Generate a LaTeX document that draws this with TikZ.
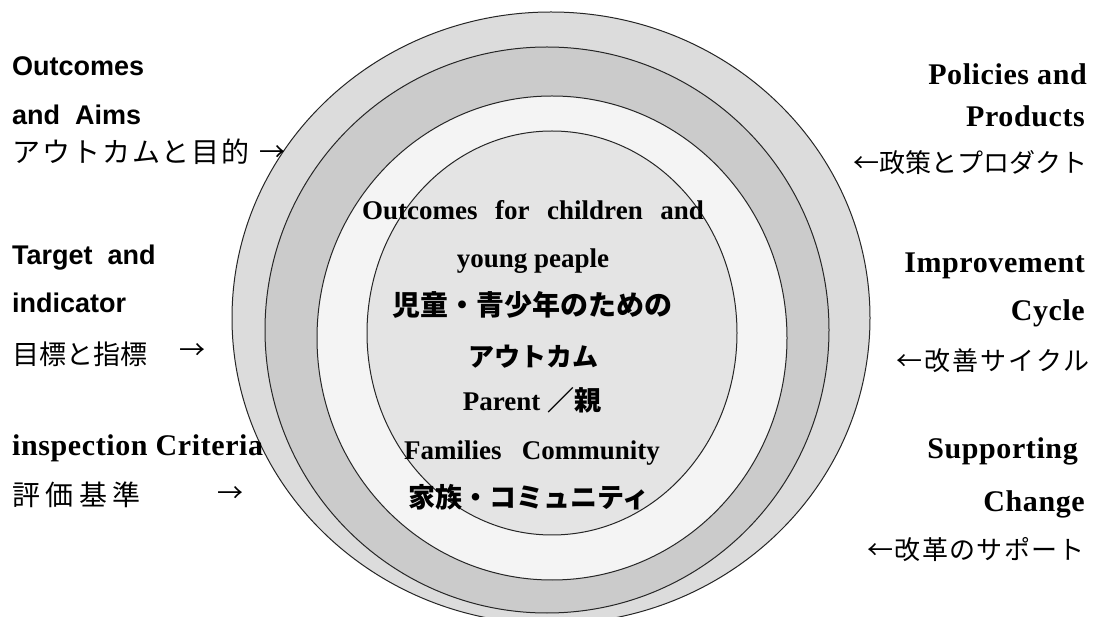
\documentclass[tikz,border=0pt]{standalone}
\usepackage{fontspec}
\setmainfont{Liberation Serif}
\newfontfamily\sansf{Liberation Sans}
\newfontfamily\serift[LetterSpace=2]{Liberation Serif}
\newfontfamily\jp{Noto Sans CJK JP}
\definecolor{bandA}{HTML}{DCDCDC}
\definecolor{bandB}{HTML}{CBCBCB}
\definecolor{bandC}{HTML}{F4F4F4}
\definecolor{bandD}{HTML}{E4E4E4}
\tikzset{
  ring/.style={draw=black!85, line width=1pt},
  lsans/.style={font=\sansf\bfseries\fontsize{27}{27}\selectfont, inner sep=0pt, anchor=base west},
  rser/.style={font=\serift\bfseries\fontsize{30}{30}\selectfont, inner sep=0pt, anchor=base east},
  lser/.style={font=\serift\bfseries\fontsize{30}{30}\selectfont, inner sep=0pt, anchor=base west},
  cser/.style={font=\bfseries\fontsize{27}{27}\selectfont, inner sep=0pt, anchor=base},
  jpl/.style={font=\jp\fontsize{28}{28}\selectfont, inner sep=0pt, anchor=west},
  jpr/.style={font=\jp\fontsize{26}{26}\selectfont, inner sep=0pt, anchor=east},
  jpc/.style={font=\jp\bfseries\fontsize{27}{27}\selectfont, inner sep=0pt, anchor=center},
  arr/.style={font=\jp\fontsize{26}{26}\selectfont, inner sep=0pt, anchor=center}
}
\begin{document}
\begin{tikzpicture}[x=1pt,y=-1pt]
\useasboundingbox (0,0) rectangle (1096,617);
\fill[white] (0,0) rectangle (1096,617);
\begin{scope}
\clip (0,0) rectangle (1096,617);
\draw[ring, fill=bandA] (551,318) ellipse [x radius=319, y radius=306];
\draw[ring, fill=bandB] (547,330) ellipse [x radius=282, y radius=283];
\draw[ring, fill=bandC] (552,338) ellipse [x radius=235, y radius=242];
\draw[ring, fill=bandD] (552,333) ellipse [x radius=185, y radius=202];
\end{scope}

% left labels
\node[lsans] (oa1) at (12,76) {Outcomes};
\node[lsans] (oa2) at (12,125) {and\ \ Aims};
\node[jpl] (oa3) at (12,152) {\addfontfeature{LetterSpace=7}アウトカムと目的};
\node[arr] (oaA) at (272,154) {→};

\node[lsans] (ti1) at (12,265) {Target\ \ and};
\node[lsans] (ti2) at (12,313) {indicator};
\node[jpl] (ti3) at (12,354) {\fontsize{27}{27}\selectfont 目標と指標};
\node[arr] (tiA) at (192,352) {→};

\node[lser] (ic1) at (12,456) {inspection Criteria};
\node[jpl] (ic2) at (12,495) {\addfontfeature{LetterSpace=20}評価基準};
\node[arr] (icA) at (230,495) {→};

% right labels
\node[rser] (pp1) at (1087,85) {Policies and};
\node[rser] (pp2) at (1085,127) {Products};
\node[jpr] (pp3) at (1088,163) {←政策とプロダクト};

\node[rser] (ic3) at (1085,273) {Improvement};
\node[rser] (ic4) at (1085,321) {Cycle};
\node[jpr] (ic5) at (1090,361) {\addfontfeature{LetterSpace=8}←改善サイクル};

\node[rser] (sc1) at (1078,459) {Supporting};
\node[rser] (sc2) at (1085,512) {Change};
\node[jpr] (sc3) at (1085,550) {\addfontfeature{LetterSpace=5}←改革のサポート};

% centre
\node[cser] (c1) at (533,220) {Outcomes\hspace{0.65em}for\hspace{0.65em}children\hspace{0.65em}and};
\node[cser] (c2) at (533,268) {young peaple};
\node[jpc] (c3) at (532,305) {\fontsize{28}{28}\selectfont 児童・青少年のための};
\node[jpc] (c4) at (533,357) {\fontsize{26}{26}\selectfont アウトカム};
\node[cser] (c5) at (532,411) {Parent {\jp\bfseries ／親}};
\node[cser] (c6) at (532,460) {Families\hspace{0.75em}Community};
\node[jpc] (c7) at (529,497) {家族・コミュニティ};
\end{tikzpicture}
\end{document}
